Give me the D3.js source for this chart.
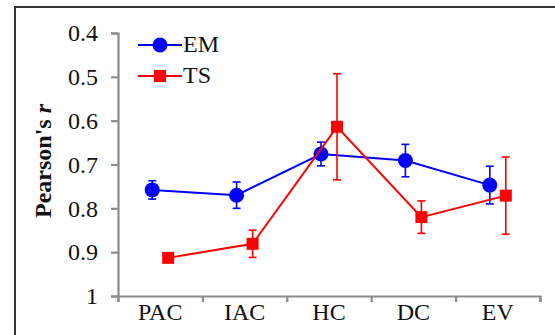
<!DOCTYPE html>
<html>
<head>
<meta charset="utf-8">
<script src="https://cdn.jsdelivr.net/npm/d3@7"></script>
<style>
  body { margin: 0; background: #fff; }
  svg { display: block; }
  text { font-family: "Liberation Serif", "Times New Roman", serif; fill: #111; }
</style>
</head>
<body>
<div id="container"></div>
<script>
const categories = ['PAC', 'IAC', 'HC', 'DC', 'EV']
const emValues = [0.758, 0.770, 0.676, 0.691, 0.747]
const emErrors = [0.021, 0.030, 0.027, 0.037, 0.043]
const tsValues = [0.913, 0.881, 0.614, 0.820, 0.771]
const tsErrors = [0, 0.031, 0.121, 0.037, 0.088]
const yTicks = [0.4, 0.5, 0.6, 0.7, 0.8, 0.9, 1]

const config = {
    width: 555,
    height: 335,
    left: 118,
    right: 540,
    top: 33,
    bottom: 296,
    offset: 8,
}

const svg = d3.select('#container')
    .append('svg')
    .attr('width', config.width)
    .attr('height', config.height)

// outer frame
svg.append('rect')
    .attr('x', 15)
    .attr('y', 7)
    .attr('width', 700)
    .attr('height', 500)
    .attr('fill', 'none')
    .attr('stroke', '#333')
    .attr('stroke-width', 2)

const yScale = d3.scaleLinear()
    .domain([0.4, 1])
    .range([config.top, config.bottom])

const xBand = d3.scaleBand()
    .domain(categories)
    .range([config.left, config.right])

const xTicks = d3.scaleLinear()
    .domain([0, categories.length])
    .range([config.left, config.right])

svg.append('g')
    .attr('class', 'y-axis')
    .attr('transform', `translate(${config.left},0)`)
    .call(d3.axisLeft(yScale)
        .tickValues(yTicks)
        .tickFormat(d => d === 1 ? '1' : d3.format('.1f')(d))
        .tickSize(7)
        .tickPadding(13))

svg.append('g')
    .attr('class', 'x-axis')
    .attr('transform', `translate(0,${config.bottom})`)
    .call(d3.axisBottom(xTicks)
        .tickValues(d3.range(categories.length + 1))
        .tickFormat('')
        .tickSize(6)
        .tickSizeOuter(6))

svg.append('g')
    .attr('class', 'x-labels')
    .attr('transform', `translate(0,${config.bottom})`)
    .call(d3.axisBottom(xBand).tickSize(0).tickPadding(7))
    .call(g => g.select('.domain').remove())

svg.selectAll('.y-axis path, .y-axis line, .x-axis path, .x-axis line')
    .attr('stroke', '#8c8c8c')
    .attr('stroke-width', 2.2)

svg.selectAll('.y-axis text, .x-labels text')
    .attr('font-family', null)
    .style('font-family', '"Liberation Serif", serif')
    .style('font-size', '24px')
    .attr('fill', '#111')

svg.selectAll('.x-labels text').attr('dy', '0.72em')

// y axis title
svg.append('text')
    .attr('transform', 'rotate(-90)')
    .attr('x', -161)
    .attr('y', 51)
    .attr('text-anchor', 'middle')
    .style('font-size', '24px')
    .style('font-weight', 'bold')
    .text("Pearson's ")
    .append('tspan')
    .style('font-style', 'italic')
    .text('r')

const series = [
    {name: 'EM', values: emValues, errors: emErrors, color: '#0000ff', shift: -config.offset, shape: 'circle'},
    {name: 'TS', values: tsValues, errors: tsErrors, color: '#ff0000', shift: config.offset, shape: 'square'},
]

const xPos = (s, i) => xBand(categories[i]) + xBand.bandwidth() / 2 + s.shift

series.forEach(s => {
    const g = svg.append('g')
    const pts = s.values.map((v, i) => ({v, e: s.errors[i], i}))

    // error bars
    const eb = g.selectAll('.err')
        .data(pts.filter(d => d.e > 0))
        .join('g')
        .attr('stroke', s.color)
        .attr('stroke-width', 1.6)
    eb.append('line')
        .attr('x1', d => xPos(s, d.i))
        .attr('x2', d => xPos(s, d.i))
        .attr('y1', d => yScale(d.v - d.e))
        .attr('y2', d => yScale(d.v + d.e))
    eb.append('line')
        .attr('x1', d => xPos(s, d.i) - 4)
        .attr('x2', d => xPos(s, d.i) + 4)
        .attr('y1', d => yScale(d.v - d.e))
        .attr('y2', d => yScale(d.v - d.e))
    eb.append('line')
        .attr('x1', d => xPos(s, d.i) - 4)
        .attr('x2', d => xPos(s, d.i) + 4)
        .attr('y1', d => yScale(d.v + d.e))
        .attr('y2', d => yScale(d.v + d.e))

    g.append('path')
        .datum(pts)
        .attr('fill', 'none')
        .attr('stroke', s.color)
        .attr('stroke-width', 2)
        .attr('d', d3.line().x(d => xPos(s, d.i)).y(d => yScale(d.v)))

    if (s.shape === 'circle') {
        g.selectAll('.pt')
            .data(pts)
            .join('circle')
            .attr('cx', d => xPos(s, d.i))
            .attr('cy', d => yScale(d.v))
            .attr('r', 7.5)
            .attr('fill', s.color)
    } else {
        g.selectAll('.pt')
            .data(pts)
            .join('rect')
            .attr('x', d => xPos(s, d.i) - 6)
            .attr('y', d => yScale(d.v) - 6)
            .attr('width', 12)
            .attr('height', 12)
            .attr('fill', s.color)
    }
})

// legend
const legend = svg.append('g')
    .selectAll('g')
    .data(series)
    .join('g')
    .attr('transform', (_, i) => `translate(138,${45 + i * 31})`)

legend.append('line')
    .attr('x1', 0)
    .attr('x2', 44)
    .attr('stroke', d => d.color)
    .attr('stroke-width', 2)

legend.filter(d => d.shape === 'circle')
    .append('circle')
    .attr('cx', 22)
    .attr('r', 7.5)
    .attr('fill', d => d.color)

legend.filter(d => d.shape === 'square')
    .append('rect')
    .attr('x', 16)
    .attr('y', -6)
    .attr('width', 12)
    .attr('height', 12)
    .attr('fill', d => d.color)

legend.append('text')
    .attr('x', 45)
    .attr('dominant-baseline', 'middle')
    .attr('dy', '0.05em')
    .style('font-size', '24px')
    .text(d => d.name)
</script>
</body>
</html>
